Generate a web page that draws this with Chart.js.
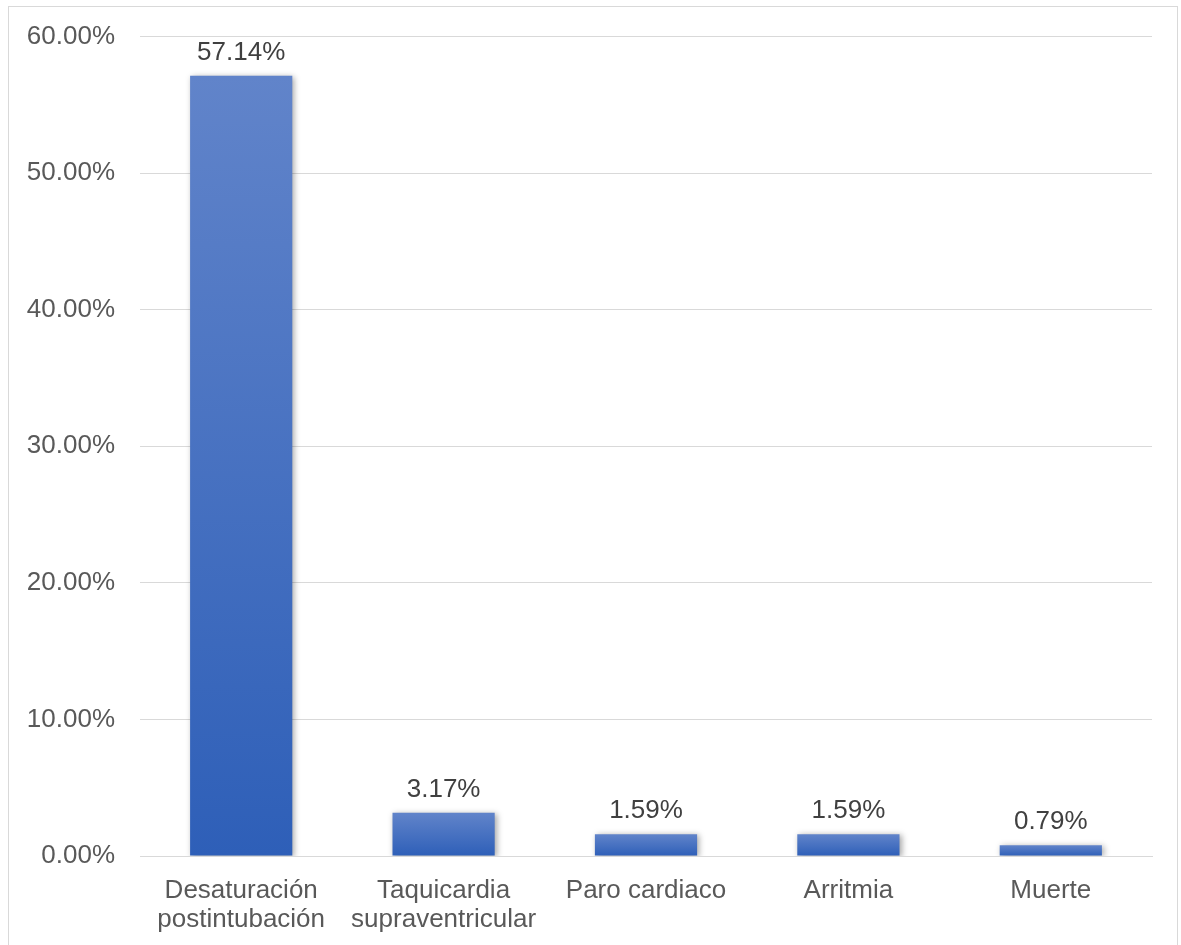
<!DOCTYPE html>
<html>
<head>
<meta charset="utf-8">
<script src="https://cdn.jsdelivr.net/npm/chart.js@4/dist/chart.umd.min.js"></script>
<style>
    html, body { margin: 0; padding: 0; background: #fff; overflow: hidden; }
    #wrap { position: relative; width: 1181px; height: 945px; overflow: hidden; }
    #frame { position: absolute; left: 8px; top: 6px; width: 1170px; height: 960px; border: 1px solid #d9d9d9; box-sizing: border-box; }
    canvas { position: absolute; left: 0; top: -4px; }
</style>
</head>
<body>
<div id="wrap">
    <div id="frame"></div>
    <canvas id="chart" width="1181" height="949"></canvas>
</div>
<script>
const categories = [
    ['Desaturación', 'postintubación'],
    ['Taquicardia', 'supraventricular'],
    'Paro cardiaco',
    'Arritmia',
    'Muerte'
];
const percentValues = [57.14, 3.17, 1.59, 1.59, 0.79];
const yTicks = [0, 10, 20, 30, 40, 50, 60];

const FONT = '"Liberation Sans", Arial, sans-serif';

// gradient per bar, from the bar's own top to the zero line
function barGradient(context) {
    const chart = context.chart;
    const yScale = chart.scales.y;
    if (!yScale || !context.parsed) {
        return '#4472c4';
    }
    const top = yScale.getPixelForValue(context.parsed.y);
    const bottom = yScale.getPixelForValue(0);
    if (!isFinite(top) || !isFinite(bottom) || top === bottom) {
        return '#4472c4';
    }
    const g = chart.ctx.createLinearGradient(0, top, 0, bottom);
    g.addColorStop(0, '#6184ca');
    g.addColorStop(1, '#2e5fb8');
    return g;
}

const barShadow = {
    id: 'barShadow',
    beforeDatasetDraw(chart) {
        const ctx = chart.ctx;
        ctx.save();
        ctx.shadowColor = 'rgba(0,0,0,0.35)';
        ctx.shadowBlur = 6;
        ctx.shadowOffsetX = 2;
        ctx.shadowOffsetY = 1;
    },
    afterDatasetDraw(chart) {
        chart.ctx.restore();
    }
};

const valueLabels = {
    id: 'valueLabels',
    afterDatasetsDraw(chart) {
        const ctx = chart.ctx;
        const meta = chart.getDatasetMeta(0);
        ctx.save();
        ctx.font = '26px ' + FONT;
        ctx.fillStyle = '#404040';
        ctx.textAlign = 'center';
        ctx.textBaseline = 'alphabetic';
        meta.data.forEach((bar, i) => {
            ctx.fillText(percentValues[i].toFixed(2) + '%', bar.x, bar.y - 16);
        });
        ctx.restore();
    }
};

const config = {
    type: 'bar',
    data: {
        labels: categories,
        datasets: [{
            data: percentValues,
            backgroundColor: barGradient,
            borderWidth: 0,
            categoryPercentage: 1.0,
            barPercentage: 0.505
        }]
    },
    options: {
        responsive: false,
        animation: false,
        layout: { padding: { top: 32, right: 29, left: 0, bottom: 0 } },
        plugins: {
            legend: { display: false },
            tooltip: { enabled: false }
        },
        scales: {
            x: {
                grid: { display: false },
                border: { display: true, color: '#d9d9d9', width: 1 },
                ticks: {
                    color: '#595959',
                    font: { family: FONT, size: 26, lineHeight: 1.12 },
                    padding: 12,
                    maxRotation: 0,
                    autoSkip: false
                },
                afterFit(scale) { scale.height = 89; }
            },
            y: {
                min: 0,
                max: 60,
                afterBuildTicks(scale) {
                    scale.ticks = yTicks.map(v => ({ value: v }));
                },
                grid: { color: '#d9d9d9', lineWidth: 1, drawTicks: false },
                border: { display: false },
                ticks: {
                    color: '#595959',
                    font: { family: FONT, size: 26 },
                    padding: 25,
                    callback: v => v.toFixed(2) + '%'
                },
                afterFit(scale) { scale.width = 140; }
            }
        }
    },
    plugins: [barShadow, valueLabels]
};

const ctx = document.getElementById('chart').getContext('2d');
const chart = new Chart(ctx, config);
</script>
</body>
</html>
